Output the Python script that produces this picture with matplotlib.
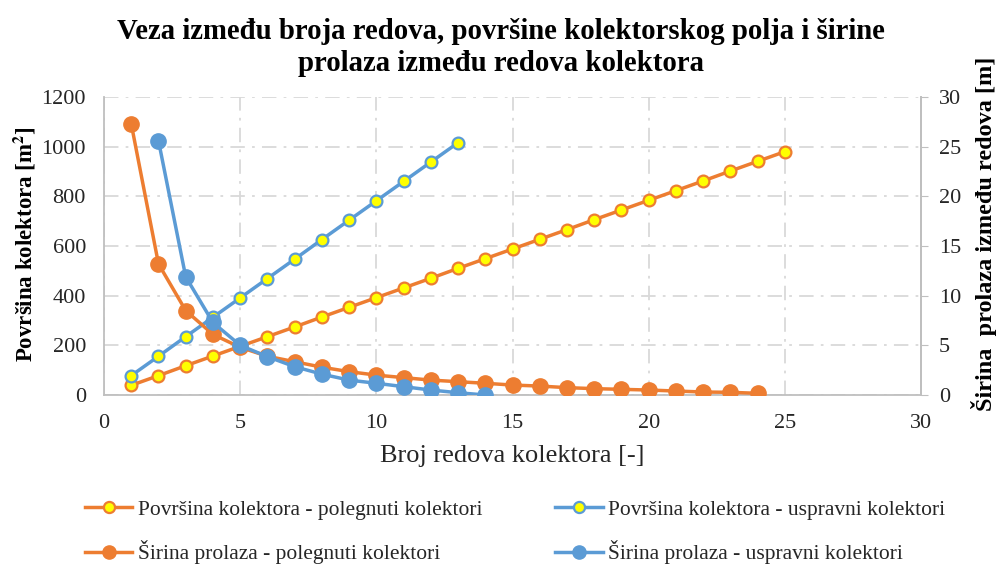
import matplotlib.pyplot as plt
from matplotlib.lines import Line2D

plt.rcParams['font.family'] = ['Liberation Serif', 'DejaVu Serif']
plt.rcParams['mathtext.fontset'] = 'stix'

# x values (broj redova)
x_pol = list(range(1, 26))
x_usp = list(range(1, 14))
x_sir_pol = list(range(1, 25))
x_sir_usp = list(range(2, 15))

# Površina kolektora [m2]
pov_pol = [39, 78, 118, 157, 196, 235, 274, 314, 353, 392, 431, 470, 510,
           549, 588, 627, 666, 706, 745, 784, 823, 862, 902, 941, 980]
pov_usp = [78, 156, 235, 313, 391, 469, 547, 626, 704, 782, 860, 938, 1016]

# Širina prolaza [m]
sir_pol = [27.3, 13.2, 8.5, 6.1, 4.8, 3.9, 3.35, 2.8, 2.35, 2.0, 1.75, 1.5,
           1.34, 1.18, 1.0, 0.9, 0.74, 0.64, 0.57, 0.5, 0.4, 0.3, 0.27, 0.17]
sir_usp = [25.6, 11.9, 7.3, 5.0, 3.86, 2.85, 2.1, 1.5, 1.18, 0.84, 0.5, 0.23, 0.0]

orange = '#ED7D31'
blue = '#5B9BD5'
yellow = '#FFFF00'
grid_c = '#D9D9D9'
spine_c = '#BFBFBF'
txt_c = '#262626'

fig = plt.figure(figsize=(10.02, 5.69), dpi=100)
ax = fig.add_axes([0.1038, 0.3058, 0.8154, 0.5237])
ax2 = ax.twinx()
ax2.patch.set_visible(False)

# grid on the primary axes (drawn below everything)
ax.set_axisbelow(True)
ax.grid(True, color=grid_c, lw=1.3, ls=(0, (8, 4, 1.5, 4)))

ax.plot(x_pol, pov_pol, color=orange, lw=2.5, marker='o', ms=8.5,
        mfc=yellow, mec=orange, mew=1.6, zorder=3)
ax.plot(x_usp, pov_usp, color=blue, lw=2.5, marker='o', ms=8.5,
        mfc=yellow, mec=blue, mew=1.6, zorder=3)
ax2.plot(x_sir_pol, sir_pol, color=orange, lw=2.5, marker='o', ms=11,
         mfc=orange, mec=orange, zorder=3)
ax2.plot(x_sir_usp, sir_usp, color=blue, lw=2.5, marker='o', ms=11,
         mfc=blue, mec=blue, zorder=3)

ax.set_xlim(0, 30)
ax.set_ylim(0, 1200)
ax2.set_ylim(0, 30)
ax.set_xticks(range(0, 31, 5))
ax.set_yticks(range(0, 1201, 200))
ax2.set_yticks(range(0, 31, 5))

for a in (ax, ax2):
    for s in a.spines.values():
        s.set_color(spine_c)
        s.set_linewidth(1.3)
    a.spines['top'].set_visible(False)
ax2.spines['left'].set_visible(False)
ax2.spines['bottom'].set_visible(False)

ax.tick_params(axis='both', length=0, labelsize=16, colors=txt_c)
ax.tick_params(axis='x', pad=14)
ax.tick_params(axis='y', pad=13)
ax2.tick_params(axis='y', length=5, color=spine_c, labelsize=16,
                labelcolor=txt_c, pad=8)

ax.set_xlabel('Broj redova kolektora [-]', fontsize=19, color=txt_c, labelpad=8)

# axis titles placed as figure text
fig.text(25 / 1002, 1 - 244 / 569, r'Površina kolektora [m$^{\mathbf{2}}$]', rotation=90,
         ha='center', va='center', fontsize=16.5, fontweight='bold')
fig.text(984 / 1002, 1 - 234 / 569, 'Širina  prolaza između redova [m]', rotation=90,
         ha='center', va='center', fontsize=17.5, fontweight='bold')

fig.text(0.5, 0.968, 'Veza između broja redova, površine kolektorskog polja i širine\nprolaza između redova kolektora',
         ha='center', va='top', fontsize=20.7, fontweight='bold', linespacing=1.25)

handles = [
    Line2D([], [], color=orange, lw=2.5, marker='o', ms=8, mfc=yellow, mec=orange, mew=1.6),
    Line2D([], [], color=orange, lw=2.5, marker='o', ms=9.5, mfc=orange, mec=orange),
    Line2D([], [], color=blue, lw=2.5, marker='o', ms=8, mfc=yellow, mec=blue, mew=1.6),
    Line2D([], [], color=blue, lw=2.5, marker='o', ms=9.5, mfc=blue, mec=blue),
]
labels = ['Površina kolektora - polegnuti kolektori',
          'Širina prolaza - polegnuti kolektori',
          'Površina kolektora - uspravni kolektori',
          'Širina prolaza - uspravni kolektori']
fig.legend(handles, labels, loc='center', bbox_to_anchor=(0.514, 1 - 532 / 569), ncol=2,
           frameon=False, fontsize=15.5, columnspacing=3.4, labelspacing=0.95,
           handlelength=2.2, handletextpad=0.25, labelcolor=txt_c)

fig.savefig('out.png', dpi=100)
